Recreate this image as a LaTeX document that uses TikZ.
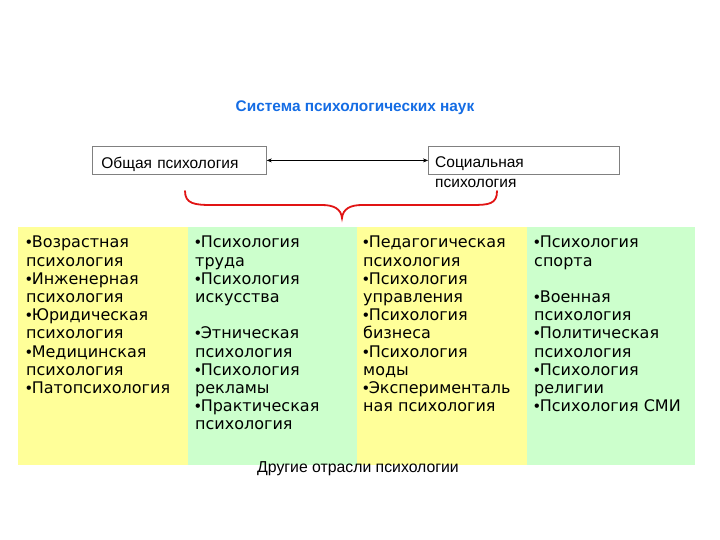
\documentclass[tikz,border=0pt]{standalone}
\usepackage{fontspec}
\setmainfont{Liberation Sans}
\newfontfamily\colfont{DejaVu Sans}
\newfontfamily\bulfont{Liberation Sans}
\usetikzlibrary{arrows.meta,positioning}
\definecolor{titleblue}{RGB}{20,108,228}
\definecolor{colyellow}{RGB}{255,255,153}
\definecolor{colgreen}{RGB}{204,255,204}
\definecolor{bracered}{RGB}{225,20,20}
\newcommand{\bul}{{\bulfont\char"2022}}

\begin{document}
\begin{tikzpicture}[
    x=1pt, y=-1pt,
    >={Stealth[length=5pt,width=4pt]},
    font=\fontsize{15.5}{20}\selectfont,
    topbox/.style={
		rectangle,
		draw=black!50,
		line width=0.8pt,
		minimum height=28pt,
		inner sep=0pt
	},
	column/.style={
		rectangle,
		anchor=north west,
		minimum width=170pt,
		minimum height=238pt,
		inner sep=0pt
	},
	items/.style={
		anchor=north west,
		inner sep=0pt,
		align=left,
		font=\colfont\fontsize{16}{18.2}\selectfont
	}
  ]
\useasboundingbox (0,0) rectangle (720,540);

% // The title
\node [font=\bfseries\fontsize{15.4}{18}\selectfont, text=titleblue] (title) at (355,108) {Система психологических наук};

% // The two boxes
\node [topbox, anchor=north west, minimum width=174pt, inner xsep=9pt, text width=156pt, align=left, text height=16pt, text depth=0pt] (general) at (92,146) {Общая психология};
\node [topbox, anchor=north west, minimum width=191pt] (social) at (428,146) {};
\node [anchor=north west, inner sep=0pt, align=left] (socialtext) at (435,156.8) {Социальная\\психология};

\draw [<->] (general) -- (social);

% // The brace
\draw [bracered, line width=1.8pt, line cap=round]
 (185,191) .. controls (185,204) and (195,205) .. (212,205) -- (322,205)
 .. controls (334,205) and (341,209) .. (342,218)
 .. controls (343,209) and (350,205) .. (362,205) -- (472,205)
 .. controls (489,205) and (497,204) .. (497,191);

% // The columns
\node [column, fill=colyellow] (col1) at (18,227) {};
\node [column, fill=colgreen] (col2) at (188,227) {};
\node [column, fill=colyellow] (col3) at (357,227) {};
\node [column, fill=colgreen, minimum width=168pt] (col4) at (527,227) {};

\node [items] (list1) at (26,235) {%
 \strut\bul Возрастная\\
 психология\\
 \bul Инженерная\\
 психология\\
 \bul Юридическая\\
 психология\\
 \bul Медицинская\\
 психология\\
 \bul Патопсихология
 };
\node [items] (list2) at (195,235) {%
 \strut\bul Психология\\
 труда\\
 \bul Психология\\
 искусства\\[18.2pt]
 \bul Этническая\\
 психология\\
 \bul Психология\\
 рекламы\\
 \bul Практическая\\
 психология
 };
\node [items] (list3) at (363,235) {%
 \strut\bul Педагогическая\\
 психология\\
 \bul Психология\\
 управления\\
 \bul Психология\\
 бизнеса\\
 \bul Психология\\
 моды\\
 \bul Эксперименталь\\
 ная психология
 };
\node [items] (list4) at (534,235) {%
 \strut\bul Психология\\
 спорта\\[18.2pt]
 \bul Военная\\
 психология\\
 \bul Политическая\\
 психология\\
 \bul Психология\\
 религии\\
 \bul Психология СМИ
 };

\node [font=\fontsize{15.8}{19}\selectfont] (others) at (358,469) {Другие отрасли психологии};

\end{tikzpicture}
\end{document}
